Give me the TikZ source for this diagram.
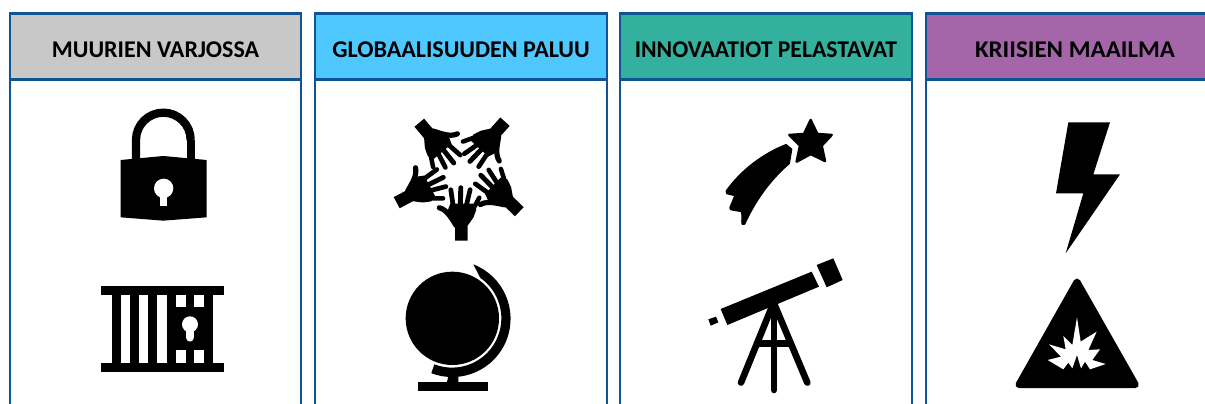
\documentclass[tikz,border=0pt]{standalone}
\usepackage{fontspec}
\setmainfont{Carlito}
\definecolor{frameblue}{HTML}{0F5596}
\definecolor{hgrey}{HTML}{C8C8C8}
\definecolor{hblue}{HTML}{4FC8FF}
\definecolor{hgreen}{HTML}{33B09E}
\definecolor{hpurple}{HTML}{A565A9}
\newcommand{\headtext}[2][1]{\scalebox{#1}[1]{#2}}
\tikzset{
  colframe/.style={draw=frameblue,line width=2.8pt},
  header/.style={draw=frameblue,line width=2.8pt,minimum height=66pt,inner sep=0pt,outer sep=0pt,anchor=north west,text height=22.4pt,text depth=0pt,font=\bfseries\fontsize{24}{28}\selectfont,text=black},
  handpic/.pic={
    \fill[black] (-6.3,0) -- (6.3,0) -- (6.3,-15) -- (12,-23) -- (15,-31) -- (12,-37) -- (-11,-37) -- (-14,-29) -- (-6.3,-15) -- cycle;
    \draw[black,line width=4.7pt,line cap=round] (-8,-34) -- (-10.5,-51);
    \draw[black,line width=4.9pt,line cap=round] (-1,-35) -- (-0.5,-53);
    \draw[black,line width=4.7pt,line cap=round] (5,-35) -- (8.8,-51);
    \draw[black,line width=4.5pt,line cap=round] (11,-30) -- (18,-43);
    \draw[black,line width=5.2pt,line cap=round] (-5,-15) .. controls (-9,-21) and (-14,-31) .. (-22,-33);
  }
}
\begin{document}
\begin{tikzpicture}[x=1pt,y=-1pt]
\useasboundingbox (0,0) rectangle (1205,404);
% columns
\draw[colframe] (10,79) -- (10,410) (301,79) -- (301,410);
\draw[colframe] (315,79) -- (315,410) (607,79) -- (607,410);
\draw[colframe] (620,79) -- (620,410) (912,79) -- (912,410);
\draw[colframe] (926,79) -- (926,410);
\node[header,fill=hgrey,minimum width=291pt] (h1) at (10,13.3) {\headtext{MUURIEN VARJOSSA}};
\node[header,fill=hblue,minimum width=292pt] (h2) at (315,13.3) {\headtext{GLOBAALISUUDEN PALUU}};
\node[header,fill=hgreen,minimum width=292pt] (h3) at (620,13.3) {\headtext[0.985]{INNOVAATIOT PELASTAVAT}};
\begin{scope}
\clip (900,0) rectangle (1205,404);
\node[header,fill=hpurple,minimum width=298pt] (h4) at (926,13.3) {\headtext[1.04]{KRIISIEN MAAILMA}};
\end{scope}
% lock and gate
\begin{scope}[scale=1/3]
\draw[black,line width=8.3pt] (408,490) -- (408,420) arc[start angle=180,end angle=360,radius=82];
\draw[black,line width=8.3pt] (572,420) -- (572,490);
\fill[black] (362,480) -- (490,468) -- (620,480) -- (620,652) -- (490,662) -- (362,652) -- cycle;
\fill[white] (491,565) circle[radius=29];
\fill[white] (481,575) rectangle (501,617);
\fill[black] (303,858) rectangle (672,885);
\fill[black] (303,1088) rectangle (672,1115);
\fill[black] (335,885) rectangle (362,1088);
\fill[black] (390,885) rectangle (418,1088);
\fill[black] (445,885) rectangle (472,1088);
\fill[black] (500,885) rectangle (640,1088);
\fill[white] (528,885) rectangle (557,922);
\fill[white] (583,885) rectangle (612,922);
\fill[white] (528,1050) rectangle (557,1088);
\fill[white] (583,1050) rectangle (612,1088);
\fill[white] (570,973) circle[radius=24];
\draw[white,line width=8.5pt,line cap=round] (570,975) -- (570,1012);
\end{scope}
% hands
\pic at (461.3,240.7) {handpic};
\pic[rotate=-62] at (396.7,202.7) {handpic};
\pic[rotate=-140] at (419.3,122.7) {handpic};
\pic[rotate=138] at (505,121.7) {handpic};
\pic[rotate=46] at (519.3,211.7) {handpic};
% globe
\begin{scope}[shift={(305,90)},scale=1/3]
\fill[black] (442,685) circle[radius=140];
\fill[black] (505,523) arc[start angle=-68.8,end angle=111,radius=175] -- (388,823) arc[start angle=111,end angle=-55,radius=148] -- cycle;
\fill[black] (340,875) rectangle (548,902);
\fill[black] (425,880) -- (432,850) -- (460,850) -- (460,880) -- cycle;
\end{scope}
% comet and telescope
\begin{scope}[shift={(610,90)},scale=1/3]
\filldraw[black,line width=2.5pt,line join=round] (602,90) -- (622,132) -- (665,135) -- (635,167) -- (645,213) -- (602,192) -- (560,215) -- (570,167) -- (538,135) -- (582,132) -- cycle;
\filldraw[black,line width=2pt,line join=round] (528,165) -- (544,178) -- (537,220) .. controls (490,260) and (440,320) .. (403,402) -- (397,402) .. controls (396,390) and (398,378) .. (396,364) -- (363,358) -- (361,353) -- (376,316) -- (351,310) -- (350,303) .. controls (395,240) and (460,192) .. (528,165) -- cycle;
\fill[black] (332,657) -- (605,545) -- (627,590) -- (352,705) -- cycle;
\fill[black] (620,525) -- (670,505) -- (698,570) -- (650,592) -- cycle;
\fill[black] (295,688) -- (318,680) -- (325,697) -- (302,707) -- cycle;
\draw[black,line width=6.6pt,line cap=round] (490,640) -- (393,878);
\draw[black,line width=6.6pt,line cap=round] (492,640) -- (592,878);
\draw[black,line width=6.6pt,line cap=round] (492,640) -- (492,900);
\draw[black,line width=6.6pt] (445,760) -- (540,760);
\end{scope}
% bolt and warning
\begin{scope}[shift={(915,0)},scale=1/3]
\fill[black] (460,367) -- (585,367) -- (535,523) -- (615,523) -- (452,760) -- (505,580) -- (423,580) -- cycle;
\filldraw[black,line width=7pt,line join=round] (486,846) -- (312,1154) -- (661,1154) -- cycle;
\end{scope}
\begin{scope}[shift={(1035,310)},scale=1/3]
\fill[white] (126,22) -- (137,95) -- (185,65) -- (160,120) -- (195,118) -- (172,150) -- (212,162) -- (165,178) -- (150,155) -- (138,175) -- (126,135) -- (112,175) -- (100,158) -- (85,178) -- (38,150) -- (78,140) -- (42,103) -- (92,118) -- (85,78) -- (112,105) -- cycle;
\end{scope}
\end{tikzpicture}
\end{document}
